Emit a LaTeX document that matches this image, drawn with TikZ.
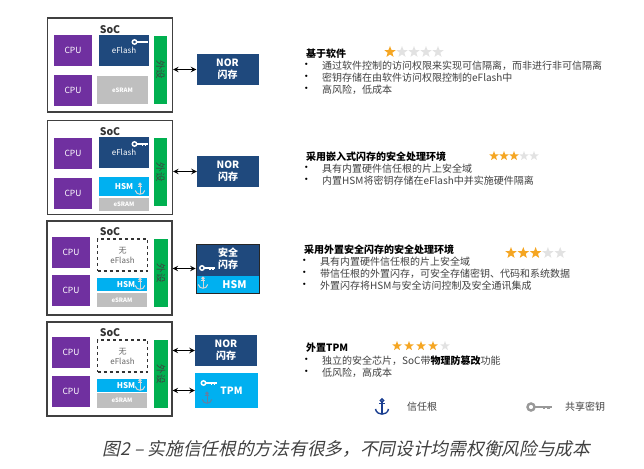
\documentclass[tikz,border=0pt]{standalone}
\usepackage{fontspec}
\usepackage{xcolor}
\setmainfont{Noto Sans CJK SC}
\newfontfamily\captionfont[FakeSlant=0.22]{Noto Sans CJK SC}
\usetikzlibrary{shapes.geometric, arrows}
\definecolor{cpupurple}{HTML}{7030A0}
\definecolor{flashblue}{HTML}{1F497D}
\definecolor{hsmblue}{HTML}{00B0F0}
\definecolor{periphgreen}{HTML}{00B050}
\definecolor{sramgray}{HTML}{BFBFBF}
\definecolor{textgray}{HTML}{404040}
\definecolor{stargold}{HTML}{F5A623}
\definecolor{stargray}{HTML}{E2E2E2}
\tikzstyle{soc} = [rectangle, draw=textgray, line width=1.2pt, fill=white, minimum width=125pt, minimum height=94pt]
\tikzstyle{socname} = [font=\bfseries\fontsize{10.5}{11}\selectfont, text=black!80, inner sep=0pt]
\tikzstyle{block} = [rectangle, inner sep=0pt, text centered, text=white, font=\fontsize{8.5}{10}\selectfont]
\tikzstyle{cpu} = [block, fill=cpupurple, minimum width=38pt, minimum height=31pt]
\tikzstyle{eflash} = [block, fill=flashblue, minimum width=50pt, minimum height=31pt, font=\fontsize{8}{9}\selectfont]
\tikzstyle{noeflash} = [block, draw=black!80, dashed, line width=1.3pt, fill=white, text=black!60, align=center, minimum width=50pt, minimum height=32pt, font=\fontsize{8}{10}\selectfont]
\tikzstyle{hsm} = [block, fill=hsmblue, font=\bfseries\fontsize{8}{9}\selectfont]
\tikzstyle{sram} = [block, fill=sramgray, font=\bfseries\fontsize{6}{7}\selectfont]
\tikzstyle{periph} = [block, fill=periphgreen, text=black!75, minimum width=13pt, minimum height=68pt, font=\fontsize{9.5}{10}\selectfont]
\tikzstyle{nor} = [block, fill=flashblue, align=center, minimum width=62pt, minimum height=31pt, font=\bfseries\fontsize{10}{12}\selectfont]
\tikzstyle{arrow} = [line width=1.4pt,<->,>=stealth]
\tikzstyle{heading} = [anchor=west, inner sep=0pt, text=black, font=\bfseries\fontsize{10}{11}\selectfont]
\tikzstyle{item} = [anchor=west, inner sep=0pt, text=textgray, font=\fontsize{10}{11}\selectfont, label={[label distance=10pt, inner sep=0pt, text=black, font=\fontsize{11}{11}\selectfont]left:•}]
\tikzstyle{legend} = [anchor=west, inner sep=0pt, text=textgray, font=\fontsize{10}{11}\selectfont]
\tikzstyle{starmark} = [star, star points=5, star point ratio=2.4, inner sep=0pt]
\tikzstyle{keymark} = [draw=white, line width=1.5pt]
\tikzstyle{anchormark} = [draw=sramgray!60!white, line width=1pt, scale=.95]
\tikzset{
  keyicon/.pic={
    \draw [pic actions] (-5,0) circle (2.2);
    \draw [pic actions] (-2.6,0) -- (8,0);
    \draw [pic actions] (3,0) -- (3,1.5) (6,0) -- (6,1.5);
  },
  anchoricon/.pic={
    \draw [pic actions] (0,-5) circle (1.2);
    \draw [pic actions] (0,-3.8) -- (0,5.5) (-2.5,-2.5) -- (2.5,-2.5);
    \draw [pic actions] (-5,1.5) .. controls (-4.5,4.5) and (-2,5.5) .. (0,5.5) .. controls (2,5.5) and (4.5,4.5) .. (5,1.5);
  }
}
% row of five stars: name, x, y, spacing, radius, number of gold ones
\newcommand{\ratingrow}[6]{
  \foreach \n in {1,...,5} {
    \ifnum\n>#6\def\starcolor{stargray}\else\def\starcolor{stargold}\fi
    \node (#1\n) [starmark, fill=\starcolor, minimum size=#5*2pt] at (#2+#4*\n-#4,#3) {};
  }
}

\begin{document}
\begin{tikzpicture}[x=1pt,y=-1pt]
	\useasboundingbox (0,0) rectangle (644,468);

	% first SoC
	\node (soca) [soc] at (110,65) {};
	\node (socnamea) [socname] at (110,30) {SoC};
	\node (cpuaa) [cpu] at (73,50.5) {CPU};
	\node (cpuab) [cpu] at (73,90.5) {CPU};
	\node (flasha) [eflash] at (124,50.5) {eFlash};
	\node (srama) [sram, minimum width=51pt, minimum height=28pt] at (122.5,90) {eSRAM};
	\node (periapha) [periph, minimum height=68pt] at (160.5,70) {\rotatebox{-90}{外设}};
	\node (nora) [nor] at (227.5,69.5) {NOR\\闪存};
	\pic [keymark] at (139.5,42) {keyicon};
	\draw [arrow] (soca.east |- nora.west) -- (nora.west);

	% second SoC
	\node (socb) [soc] at (110,167.5) {};
	\node (socnameb) [socname] at (110,132) {SoC};
	\node (cpuba) [cpu] at (73,153) {CPU};
	\node (cpubb) [cpu] at (73,193.5) {CPU};
	\node (flashb) [eflash] at (124,152.5) {eFlash};
	\node (hsmb) [hsm, minimum width=50pt, minimum height=19pt] at (124,186.5) {HSM\hspace{16pt}};
	\node (sramb) [sram, minimum width=50pt, minimum height=13pt] at (124,204.5) {eSRAM};
	\node (periphb) [periph] at (160.5,172) {\rotatebox{-90}{外设}};
	\node (norb) [nor] at (228,171.5) {NOR\\闪存};
	\pic [keymark] at (139.5,144) {keyicon};
	\pic [anchormark] at (140,189) {anchoricon};
	\draw [arrow] (socb.east |- norb.west) -- (norb.west);

	% third SoC, flash moved outside
	\node (socc) [soc] at (109.5,268) {};
	\node (socnamec) [socname] at (110,232) {SoC};
	\node (cpuca) [cpu] at (71,252.5) {CPU};
	\node (cpucb) [cpu] at (71,290.5) {CPU};
	\node (noflashc) [noeflash] at (122.5,255) {无\\eFlash};
	\node (hsmc) [hsm, minimum width=50pt, minimum height=13pt] at (122,284.5) {\hspace{8pt}HSM\hspace{14pt}};
	\node (sramc) [sram, minimum width=50pt, minimum height=14pt] at (122,300) {eSRAM};
	\node (periphc) [periph, minimum width=14pt] at (161,273) {\rotatebox{-90}{外设}};
	\node (secflash) [nor, draw=black!85, line width=.8pt, minimum width=63pt, minimum height=49pt] at (227.5,268.5) {};
	\node (sechsm) [hsm, minimum width=62pt, minimum height=16.5pt, font=\bfseries\fontsize{10.5}{11}\selectfont] at (227.5,284.5) {\hspace{14pt}HSM};
	\node (sectext) [block, align=center, font=\bfseries\fontsize{10}{12}\selectfont] at (228,259) {安全\\闪存};
	\pic [keymark] at (207,268) {keyicon};
	\pic [anchormark] at (140,284) {anchoricon};
	\pic [anchormark] at (203,283) {anchoricon};
	\draw [arrow] (socc.east |- secflash.west) -- (secflash.west);

	% fourth SoC, with TPM
	\node (socd) [soc, minimum height=94pt] at (109.5,369) {};
	\node (socnamed) [socname] at (110,333) {SoC};
	\node (cpuda) [cpu] at (71,352.5) {CPU};
	\node (cpudb) [cpu] at (71,391.5) {CPU};
	\node (noflashd) [noeflash] at (122.5,356) {无\\eFlash};
	\node (hsmd) [hsm, minimum width=50pt, minimum height=13pt] at (122,385.5) {\hspace{8pt}HSM\hspace{14pt}};
	\node (sramd) [sram, minimum width=50pt, minimum height=15pt] at (122,400.5) {eSRAM};
	\node (periphd) [periph, minimum width=14pt] at (161,374) {\rotatebox{-90}{外设}};
	\node (nord) [nor] at (226,350.5) {NOR\\闪存};
	\node (tpm) [nor, fill=hsmblue, minimum width=63pt, minimum height=35pt] at (226.5,390.5) {\hspace{10pt}TPM};
	\pic [keymark] at (208.5,383) {keyicon};
	\pic [anchormark] at (140,385) {anchoricon};
	\pic [anchormark, draw=flashblue!70] at (207,398) {anchoricon};
	\draw [arrow] (socd.east |- nord.west) -- (nord.west);
	\draw [arrow] (socd.east |- tpm.west) -- (tpm.west);

	% text on the right
	\node (heada) [heading] at (306,54) {基于软件};
	\ratingrow{stara}{390}{52}{12}{6}{1}
	\node (itemaa) [item] at (322,66) {通过软件控制的访问权限来实现可信隔离，而非进行非可信隔离};
	\node (itemab) [item] at (322,78) {密钥存储在由软件访问权限控制的eFlash中};
	\node (itemac) [item] at (322,90) {高风险，低成本};

	\node (headb) [heading] at (306,157) {采用嵌入式闪存的安全处理环境};
	\ratingrow{starb}{494}{156}{10}{5}{3}
	\node (itemba) [item] at (322,169) {具有内置硬件信任根的片上安全域};
	\node (itembb) [item] at (322,181) {内置HSM将密钥存储在eFlash中并实施硬件隔离};

	\node (headc) [heading] at (304,250) {采用外置安全闪存的安全处理环境};
	\ratingrow{starc}{511}{253}{12.3}{6}{3}
	\node (itemca) [item] at (320,262) {具有内置硬件信任根的片上安全域};
	\node (itemcb) [item] at (320,274) {带信任根的外置闪存，可安全存储密钥、代码和系统数据};
	\node (itemcc) [item] at (320,286) {外置闪存将HSM与安全访问控制及安全通讯集成};

	\node (headd) [heading] at (306,348) {外置TPM};
	\ratingrow{stard}{397}{346}{12}{5}{4}
	\node (itemda) [item] at (322,361) {独立的安全芯片，SoC带\textbf{\textcolor{black}{物理防篡改}}功能};
	\node (itemdb) [item] at (322,373) {低风险，高成本};

	% legend
	\pic [draw=flashblue!85!blue, line width=1.4pt, scale=1.3] at (382,407) {anchoricon};
	\node (legroot) [legend] at (407,407) {信任根};
	\pic [draw=sramgray!80!black, line width=2.4pt, scale=1.6] at (539,407) {keyicon};
	\node (legkey) [legend] at (565,407) {共享密钥};

	\node (caption) [inner sep=0pt, text=textgray, font=\captionfont\fontsize{17.7}{19}\selectfont] at (346.5,449) {图2 – 实施信任根的方法有很多，不同设计均需权衡风险与成本};
\end{tikzpicture}
\end{document}
